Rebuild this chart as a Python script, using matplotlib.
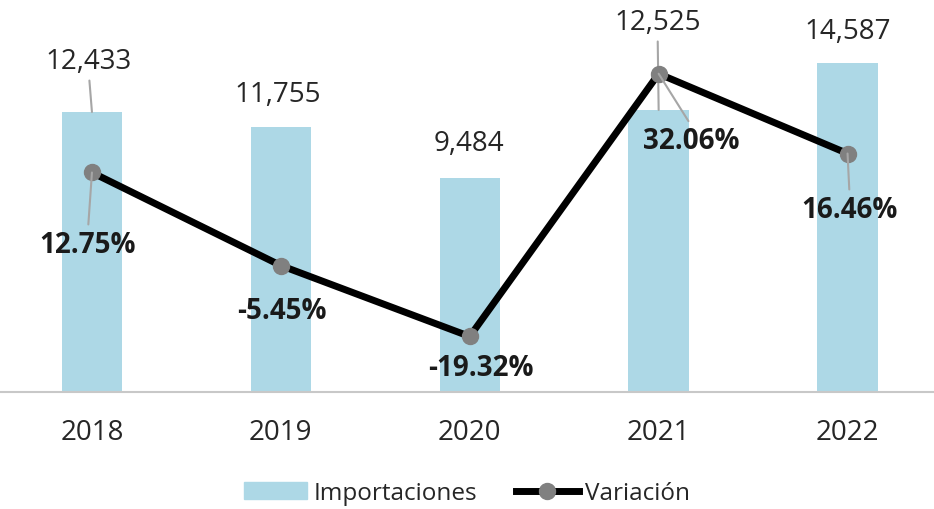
import matplotlib
matplotlib.use("Agg")
import matplotlib.pyplot as plt
import numpy as np

years = ["2018", "2019", "2020", "2021", "2022"]
importaciones = [12433, 11755, 9484, 12525, 14587]
variacion = [12.75, -5.45, -19.32, 32.06, 16.46]

# label offsets in pixels (dx, dy) from the mark
bar_offsets = [(-3, 51), (-3, 33), (-1, 35), (-1, 88), (0, 32)]
pct_offsets = [(-4, -72), (1, -45), (11, -31), (33, -67), (2, -56)]

plt.rcParams['font.family'] = ['Open Sans', 'DejaVu Sans']

W, H = 934, 510
fig = plt.figure(figsize=(W / 100, H / 100), dpi=100)
ax = fig.add_axes([-2.5 / W, (H - 393) / H, 944.5 / W, 393 / H])
ax2 = ax.twinx()

x = np.arange(len(years))
ax.bar(x, importaciones, width=0.32, color='#add8e6', zorder=1)
ax2.plot(x, variacion, color='black', lw=5, marker='o', markersize=11.5,
         markerfacecolor='#808080', markeredgecolor='#808080', solid_capstyle='round')

ax.set_xlim(-0.5, 4.5)
ax.set_ylim(0, 17451)
ax2.set_ylim(-30.18, 46.68)

for a in (ax, ax2):
    for s in ('top', 'left', 'right', 'bottom'):
        a.spines[s].set_visible(False)
    a.set_yticks([])
ax.spines['bottom'].set_visible(True)
ax.spines['bottom'].set_color('#c8c8c8')
ax.spines['bottom'].set_linewidth(1.5)

ax.set_xticks(x)
ax.set_xticklabels(years, fontsize=20, color='#262626')
ax.tick_params(axis='x', length=0, pad=19)

leader = dict(arrowstyle='-', color='#a6a6a6', lw=1.5, shrinkB=0)

for i, v in enumerate(importaciones):
    dx, dy = bar_offsets[i]
    props = None
    if abs(dy) > 40:
        props = dict(leader, relpos=(0.5, 0))
    ax.annotate(f"{v:,}", xy=(i, v), xytext=(dx, dy), textcoords='offset pixels',
                ha='center', va='center', fontsize=20, color='#262626',
                arrowprops=props)

for i, v in enumerate(variacion):
    dx, dy = pct_offsets[i]
    props = None
    if abs(dy) > 50:
        props = dict(leader, relpos=(0.5, 1))
    ax2.annotate(f"{v:.2f}%", xy=(i, v), xytext=(dx, dy), textcoords='offset pixels',
                 ha='center', va='center', fontsize=20, fontweight='bold', color='#1a1a1a',
                 arrowprops=props)

h1 = plt.Rectangle((0, 0), 1, 1, color='#add8e6')
h2 = plt.Line2D([], [], color='black', lw=5, marker='o', markersize=11.5,
                markerfacecolor='#808080', markeredgecolor='#808080')
fig.legend([h1, h2], ["Importaciones", "Variación"], loc='center',
           bbox_to_anchor=(0.5, 1 - 494 / H), ncol=2, frameon=False,
           fontsize=17.5, handlelength=2.6, handleheight=0.65, handletextpad=0.25,
           columnspacing=1.6, labelcolor='#262626')

fig.savefig("out.png", dpi=100)
